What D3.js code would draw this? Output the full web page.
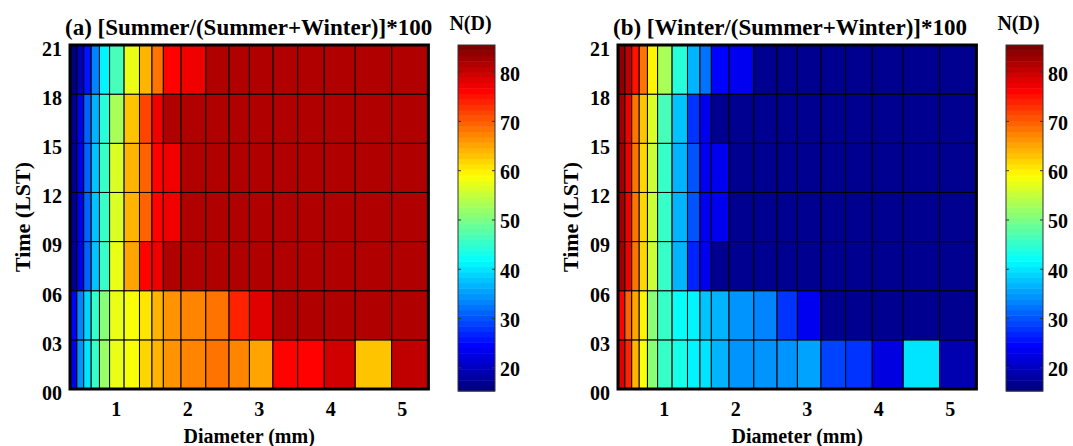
<!DOCTYPE html>
<html>
<head>
<meta charset="utf-8">
<script src="https://cdn.jsdelivr.net/npm/d3@7"></script>
<style>
  body { margin: 0; background: #fff; }
  svg text { font-family: "Liberation Serif", "Times New Roman", serif; font-weight: bold; fill: #000; }
</style>
</head>
<body>
<div id="chart"></div>
<script>
// pcolor cell edges: disdrometer class centres (mm) and 3-hourly LST bins
const diamEdges = [0.359, 0.455, 0.551, 0.656, 0.771, 0.913, 1.116, 1.331, 1.506, 1.665,
                   1.912, 2.259, 2.584, 2.869, 3.198, 3.544, 3.916, 4.350, 4.859, 5.373];
const hourEdges = [0, 3, 6, 9, 12, 15, 18, 21];
const hourLabels = ["00", "03", "06", "09", "12", "15", "18", "21"];
const diamTicks = [1, 2, 3, 4, 5];
const cbTicks = [20, 30, 40, 50, 60, 70, 80];
const cbDomain = [15.3, 85.5];

// rows: 00, 03, 06, 09, 12, 15, 18 LST (bottom to top)
const summerPct = [
  [24, 34, 40, 46, 52, 57, 59, 62, 64, 66, 67, 69, 67, 65, 76, 76, 80, 63, 81],
  [25, 33, 39, 45, 51, 57, 59, 61, 64, 66, 67, 69, 74, 78, 82, 82, 82, 82, 82],
  [17, 24, 31, 38, 46, 57, 65, 76, 77, 82, 82, 82, 82, 82, 82, 82, 82, 82, 82],
  [17, 24, 31, 38, 46, 56, 64, 70, 76, 77, 82, 82, 82, 82, 82, 82, 82, 82, 82],
  [17, 24, 31, 38, 46, 56, 64, 70, 76, 77, 82, 82, 82, 82, 82, 82, 82, 82, 82],
  [17, 24, 31, 37, 44, 53, 63, 72, 77, 82, 82, 82, 82, 82, 82, 82, 82, 82, 82],
  [16, 20, 26, 33, 41, 47, 57, 64, 69, 76, 77, 82, 82, 82, 82, 82, 82, 82, 82]
];
const winterPct = [
  [78, 74, 64, 59, 51, 45, 43, 41, 40, 37, 35, 34, 34, 36, 29, 28, 22, 40, 19],
  [76, 70, 65, 60, 51, 45, 42, 41, 38, 37, 35, 33, 28, 24, 17, 17, 17, 17, 17],
  [83, 77, 69, 62, 55, 45, 37, 27, 24, 17, 17, 17, 17, 17, 17, 17, 17, 17, 17],
  [83, 77, 69, 62, 55, 45, 37, 30, 24, 23, 17, 17, 17, 17, 17, 17, 17, 17, 17],
  [83, 77, 69, 62, 55, 45, 37, 30, 24, 23, 17, 17, 17, 17, 17, 17, 17, 17, 17],
  [83, 77, 69, 63, 56, 47, 38, 28, 23, 17, 17, 17, 17, 17, 17, 17, 17, 17, 17],
  [84, 81, 75, 68, 60, 53, 44, 37, 32, 25, 23, 17, 17, 17, 17, 17, 17, 17, 17]
];

const panels = [
  { title: "(a) [Summer/(Summer+Winter)]*100", values: summerPct, left: 70 },
  { title: "(b) [Winter/(Summer+Winter)]*100", values: winterPct, left: 618 }
];

const width = 1073, height = 446;
const plotTop = 45, plotW = 358.4, plotH = 344;
const cbOffset = 388, cbW = 37, cbH = 346;

// MATLAB-like jet colormap, 64 levels
function jet(t) {
  const c = v => Math.max(0, Math.min(1, v)) * 255;
  return d3.rgb(c(1.5 - Math.abs(4 * t - 3)), c(1.5 - Math.abs(4 * t - 2)), c(1.5 - Math.abs(4 * t - 1))).formatHex();
}
const color = d3.scaleQuantize().domain(cbDomain).range(d3.quantize(jet, 64));

const x = d3.scaleLinear().domain([diamEdges[0], diamEdges[diamEdges.length - 1]]).range([0, plotW]);
const y = d3.scaleLinear().domain([0, 21]).range([plotH, 0]);
const cbY = d3.scaleLinear().domain(cbDomain).range([cbH, 0]);

const svg = d3.select("#chart").append("svg")
  .attr("width", width)
  .attr("height", height);

svg.append("rect").attr("width", width).attr("height", height).attr("fill", "#fff");

panels.forEach(p => {
  const g = svg.append("g").attr("transform", `translate(${p.left},${plotTop})`);

  const cells = [];
  p.values.forEach((row, i) => row.forEach((v, j) => cells.push({ i, j, v })));

  g.selectAll("rect.cell")
    .data(cells)
    .join("rect")
    .attr("class", "cell")
    .attr("x", d => x(diamEdges[d.j]))
    .attr("y", d => y(hourEdges[d.i + 1]))
    .attr("width", d => x(diamEdges[d.j + 1]) - x(diamEdges[d.j]))
    .attr("height", d => y(hourEdges[d.i]) - y(hourEdges[d.i + 1]))
    .attr("fill", d => color(d.v))
    .attr("stroke", "#000")
    .attr("stroke-width", 1);

  // heavy axes box
  g.append("rect")
    .attr("width", plotW)
    .attr("height", plotH)
    .attr("fill", "none")
    .attr("stroke", "#000")
    .attr("stroke-width", 3);

  // y axis labels
  g.append("g")
    .call(d3.axisLeft(y).tickValues(hourEdges).tickFormat((d, i) => hourLabels[i]).tickSize(0).tickPadding(8))
    .call(a => a.select(".domain").remove())
    .selectAll("text")
    .attr("dy", "0.42em")
    .attr("transform", "translate(0,2)")
    .style("font-size", "20px");

  // x axis labels
  g.append("g")
    .attr("transform", `translate(0,${plotH})`)
    .call(d3.axisBottom(x).tickValues(diamTicks).tickFormat(d3.format("d")).tickSize(0).tickPadding(13))
    .call(a => a.select(".domain").remove())
    .selectAll("text")
    .style("font-size", "20px");

  g.append("text")
    .attr("x", -5)
    .attr("y", -10)
    .style("font-size", "23px")
    .text(p.title);

  g.append("text")
    .attr("x", plotW / 2)
    .attr("y", plotH + 54)
    .attr("text-anchor", "middle")
    .style("font-size", "20px")
    .text("Diameter (mm)");

  g.append("text")
    .attr("transform", `translate(${-48},${plotH / 2}) rotate(-90)`)
    .attr("text-anchor", "middle")
    .attr("dy", "0.35em")
    .style("font-size", "22px")
    .text("Time (LST)");

  // colorbar
  const cg = g.append("g").attr("transform", `translate(${cbOffset},0)`);
  cg.selectAll("rect.level")
    .data(color.range())
    .join("rect")
    .attr("class", "level")
    .attr("x", 0)
    .attr("width", cbW)
    .attr("y", c => cbY(color.invertExtent(c)[1]))
    .attr("height", c => cbY(color.invertExtent(c)[0]) - cbY(color.invertExtent(c)[1]) + 0.5)
    .attr("fill", c => c);

  cg.append("rect")
    .attr("width", cbW)
    .attr("height", cbH)
    .attr("fill", "none")
    .attr("stroke", "#333")
    .attr("stroke-width", 1);

  cg.selectAll("line.tk")
    .data(cbTicks.flatMap(t => [[t, 0, 3], [t, cbW - 3, cbW]]))
    .join("line")
    .attr("class", "tk")
    .attr("x1", d => d[1]).attr("x2", d => d[2])
    .attr("y1", d => cbY(d[0])).attr("y2", d => cbY(d[0]))
    .attr("stroke", "#333");

  cg.append("g")
    .attr("transform", `translate(${cbW},0)`)
    .call(d3.axisRight(cbY).tickValues(cbTicks).tickSize(0).tickPadding(5))
    .call(a => a.select(".domain").remove())
    .selectAll("text")
    .attr("dy", "0.4em")
    .style("font-size", "20px");

  cg.append("text")
    .attr("x", cbW / 2 - 6)
    .attr("y", -15)
    .attr("text-anchor", "middle")
    .style("font-size", "20px")
    .text("N(D)");
});
</script>
</body>
</html>
